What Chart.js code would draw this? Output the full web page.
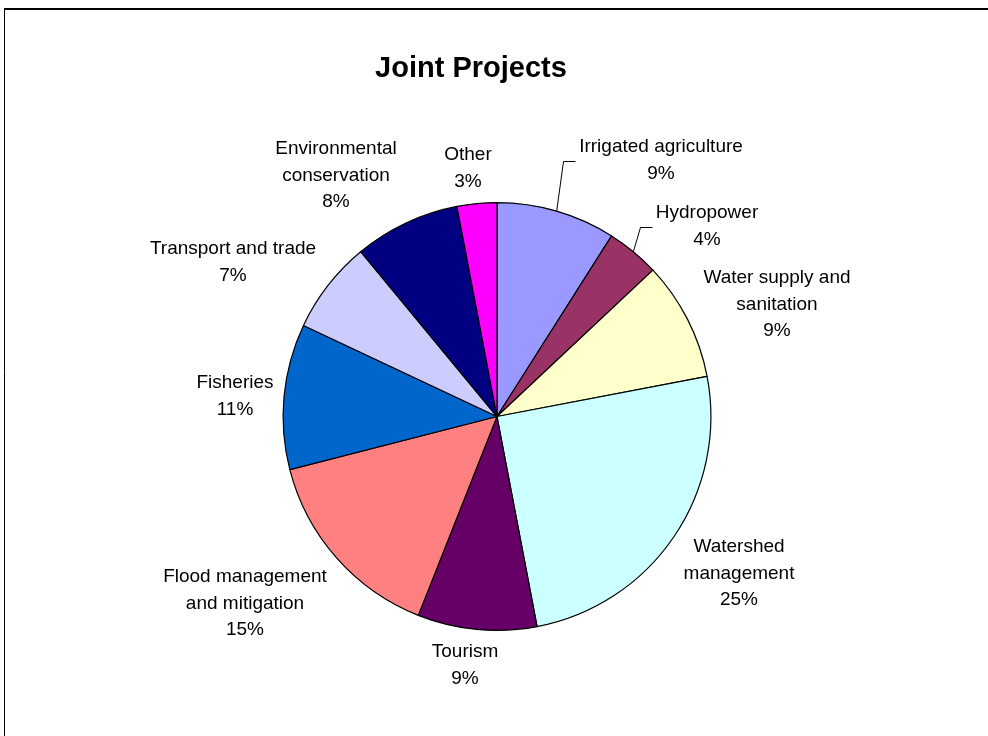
<!DOCTYPE html>
<html>
<head>
<meta charset="utf-8">
<title>Joint Projects</title>
<script src="https://cdn.jsdelivr.net/npm/chart.js@4.4.1/dist/chart.umd.min.js"></script>
<style>
    html, body { margin: 0; padding: 0; background: #fff; }
    #wrap { position: relative; width: 988px; height: 736px; }
</style>
</head>
<body>
<div id="wrap"><canvas id="projects-chart"></canvas></div>
<script>
// Project categories (wrapped the way they are printed) and their shares in percent
const categories = [
    ["Irrigated agriculture"],
    ["Hydropower"],
    ["Water supply and", "sanitation"],
    ["Watershed", "management"],
    ["Tourism"],
    ["Flood management", "and mitigation"],
    ["Fisheries"],
    ["Transport and trade"],
    ["Environmental", "conservation"],
    ["Other"]
];
const shares = [9, 4, 9, 25, 9, 15, 11, 7, 8, 3];
const sliceColors = [
    "#9999FF", "#993366", "#FFFFCC", "#CCFFFF", "#660066",
    "#FF8080", "#0066CC", "#CCCCFF", "#000080", "#FF00FF"
];

// Where each label block sits, relative to the pie centre; some get a leader line
const labelOffsets = [
    [164, -256], [210, -190], [280, -112], [242, 157], [-32, 249],
    [-252, 187], [-262, -20], [-264, -154], [-161, -241], [-29, -248]
];
const withLeader = [true, true, false, false, false, false, false, false, false, false];

const FONT = "Liberation Sans, Arial, sans-serif";
const LINE_H = 26.5;

// Outer frame and title
const framePlugin = {
    id: "frame",
    beforeDraw(chart) {
        const ctx = chart.ctx;
        ctx.save();
        ctx.strokeStyle = "#000";
        ctx.lineWidth = 2;
        ctx.beginPath();
        ctx.moveTo(4, 9);
        ctx.lineTo(chart.width, 9);
        ctx.stroke();
        ctx.lineWidth = 1;
        ctx.beginPath();
        ctx.moveTo(4.5, 9);
        ctx.lineTo(4.5, chart.height);
        ctx.stroke();
        ctx.fillStyle = "#000";
        ctx.font = "bold 29px " + FONT;
        ctx.textAlign = "center";
        ctx.textBaseline = "middle";
        ctx.fillText("Joint Projects", 471, 69);
        ctx.restore();
    }
};

// Category name and percentage next to every slice
const sliceLabels = {
    id: "sliceLabels",
    afterDatasetsDraw(chart) {
        const ctx = chart.ctx;
        const meta = chart.getDatasetMeta(0);
        ctx.save();
        ctx.font = "19px " + FONT;
        ctx.fillStyle = "#000";
        ctx.strokeStyle = "#000";
        ctx.lineWidth = 1;
        ctx.textAlign = "center";
        ctx.textBaseline = "middle";
        meta.data.forEach((arc, i) => {
            const { x: cx, y: cy, outerRadius, startAngle, endAngle } = arc.getProps(
                ["x", "y", "outerRadius", "startAngle", "endAngle"], true);
            const lines = chart.data.labels[i].concat([shares[i] + "%"]);
            const bx = cx + labelOffsets[i][0];
            const by = cy + labelOffsets[i][1];
            const top = by - (lines.length - 1) * LINE_H / 2;
            lines.forEach((line, k) => ctx.fillText(line, bx, top + k * LINE_H));

            if (withLeader[i]) {
                const mid = (startAngle + endAngle) / 2;
                const sx = cx + Math.cos(mid) * outerRadius;
                const sy = cy + Math.sin(mid) * outerRadius;
                const halfW = ctx.measureText(lines[0]).width / 2;
                const ex = Math.round(bx - halfW - 4) + 0.5;
                const ey = Math.round(by) + 0.5;
                ctx.beginPath();
                ctx.moveTo(sx, sy);
                ctx.lineTo(ex - 12, ey);
                ctx.lineTo(ex, ey);
                ctx.stroke();
            }
        });
        ctx.restore();
    }
};

new Chart(document.getElementById("projects-chart").getContext("2d"), {
    type: "pie",
    data: {
        labels: categories,
        datasets: [{
            data: shares,
            backgroundColor: sliceColors,
            borderColor: "#000",
            borderWidth: 1.2
        }]
    },
    options: {
        responsive: true,
        maintainAspectRatio: false,
        animation: false,
        layout: { padding: { top: 202, bottom: 105, left: 247, right: 241 } },
        plugins: {
            legend: { display: false },
            tooltip: { enabled: false }
        }
    },
    plugins: [framePlugin, sliceLabels]
});
</script>
</body>
</html>
